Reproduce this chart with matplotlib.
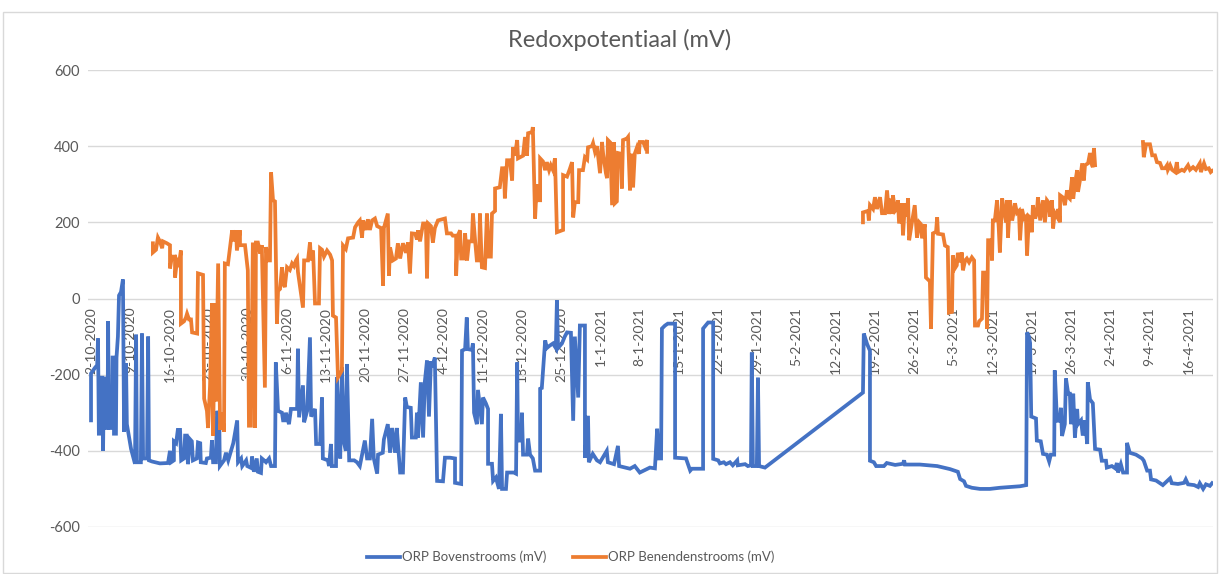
import numpy as np
import pandas as pd
import matplotlib
matplotlib.use("Agg")
import matplotlib.pyplot as plt
import matplotlib.dates as mdates
from matplotlib.ticker import FuncFormatter, MultipleLocator
from matplotlib.patches import Rectangle

plt.rcParams['font.family'] = ['Lato', 'DejaVu Sans']
plt.rcParams['axes.unicode_minus'] = False

title = "Redoxpotentiaal (mV)"
series_names = ["ORP Bovenstrooms (mV)", "ORP Benendenstrooms (mV)"]
start_date = "2020-10-02"
end_date = "2021-04-16"

# days since 2-10-2020 and mV values, Bovenstrooms (blue)
blue_days = [0.0, 0.0, 0.7, 1.1, 1.25, 1.4, 1.6, 1.6, 2.0, 2.15, 2.3, 2.7, 2.7, 2.95, 3.05, 3.2, 3.75, 3.85, 4.1, 4.1,
             4.45, 4.55, 4.8, 5.0, 5.35, 5.7, 5.9, 6.25, 6.4, 7.15, 7.85, 8.05, 8.2, 8.9, 9.1, 9.3, 10.0, 10.2, 10.35, 10.9,
             12.3, 13.75, 14.1, 14.3, 14.8, 14.8, 15.2, 15.5, 15.9, 16.1, 16.6, 16.8, 17.1, 17.3, 17.7, 18.0, 18.2, 18.9, 19.1, 19.5,
             19.6, 20.5, 20.7, 21.4, 21.6, 21.8, 22.3, 22.5, 22.9, 23.0, 23.75, 24.1, 24.5, 25.4, 26.1, 26.25, 26.8, 27.0, 27.7, 27.9,
             28.6, 28.75, 29.1, 29.6, 29.8, 30.35, 30.5, 30.9, 31.25, 31.8, 32.15, 32.85, 33.0, 33.4, 34.1, 34.3, 34.6, 34.8, 35.35, 35.7,
             36.8, 36.95, 37.15, 37.85, 38.05, 38.6, 39.1, 39.3, 40.0, 40.2, 40.9, 41.25, 41.4, 42.3, 42.5, 42.85, 43.0, 43.75, 43.9, 44.3,
             44.5, 44.8, 45.2, 45.5, 45.7, 46.1, 47.0, 47.5, 48.0, 48.9, 49.3, 49.8, 50.2, 50.5, 51.1, 51.25, 52.1, 52.3, 53.0, 53.4,
             53.75, 54.3, 54.6, 55.2, 55.7, 56.1, 56.4, 57.1, 57.3, 58.0, 58.2, 58.4, 58.9, 59.3, 59.6, 60.0, 60.35, 60.7, 60.9, 61.4,
             61.8, 62.85, 63.2, 64.1, 65.0, 65.0, 66.1, 66.25, 66.8, 67.1, 67.3, 68.0, 68.2, 68.4, 68.9, 69.1, 69.8, 70.0, 70.5, 70.9,
             70.9, 71.6, 71.8, 72.3, 72.85, 73.2, 73.4, 74.1, 74.3, 75.5, 75.9, 76.1, 76.25, 76.8, 76.95, 77.15, 77.85, 78.05, 78.4, 78.9,
             79.3, 80.2, 80.2, 80.5, 81.1, 81.4, 81.8, 82.5, 83.0, 83.2, 83.4, 84.1, 84.6, 85.0, 85.7, 86.1, 86.4, 87.0, 87.3, 88.2,
             88.2, 88.75, 88.9, 89.6, 90.35, 90.9, 92.1, 92.3, 93.4, 94.1, 94.3, 96.25, 97.1, 98.0, 99.8, 100.7, 101.1, 101.4, 101.8, 101.95,
             102.5, 103.0, 104.3, 104.3, 106.25, 107.0, 107.3, 109.3, 109.3, 109.8, 110.2, 111.1, 111.1, 112.0, 112.3, 113.0, 113.4, 114.1, 114.6, 115.4,
             115.5, 116.8, 117.3, 117.85, 118.0, 118.2, 118.9, 119.1, 119.3, 120.35, 137.85, 138.0, 138.6, 139.1, 139.1, 139.8, 140.2, 141.6, 142.1, 143.6,
             145.0, 145.2, 145.35, 148.0, 151.1, 153.4, 154.8, 155.2, 155.9, 156.25, 157.3, 158.75, 160.5, 162.3, 164.1, 165.9, 167.0, 167.15, 167.5, 167.7,
             167.9, 168.75, 168.9, 169.6, 170.0, 170.7, 171.1, 171.4, 172.0, 172.1, 172.5, 173.0, 173.2, 173.4, 173.9, 174.1, 174.5, 174.8, 175.0, 175.4,
             175.7, 176.1, 176.25, 176.8, 177.1, 177.5, 177.9, 178.0, 178.4, 178.9, 179.3, 180.2, 180.5, 181.25, 181.4, 182.3, 182.9, 183.2, 183.4, 183.9,
             184.3, 185.0, 185.0, 185.5, 186.6, 187.7, 188.0, 188.6, 189.1, 189.3, 190.2, 190.9, 191.4, 191.9, 192.7, 193.0, 194.1, 195.2, 195.5, 195.9,
             197.0, 197.7, 198.0, 198.6, 199.1, 199.8, 200.2]
blue_mv = [-320, -197, -182, -175, -105, -355, -355, -208, -208, -400, -210, -210, -340, -340, -60, -340, -340, -155, -155, -355,
           -355, -155, -100, 8, 17, 50, -350, -170, -330, -395, -434, -95, -430, -430, -92, -420, -420, -100, -425, -428,
           -433, -432, -400, -430, -425, -375, -380, -345, -345, -425, -420, -360, -360, -435, -370, -375, -425, -420, -378, -380,
           -430, -432, -420, -418, -372, -430, -430, -295, -320, -440, -425, -405, -425, -380, -320, -430, -420, -440, -425, -440,
           -445, -415, -455, -420, -455, -458, -420, -425, -430, -420, -440, -440, -168, -295, -300, -320, -320, -300, -330, -290,
           -290, -132, -312, -228, -325, -295, -102, -310, -290, -382, -382, -260, -420, -425, -440, -382, -440, -440, -207, -340,
           -420, -181, -380, -400, -172, -425, -425, -430, -440, -373, -420, -420, -316, -420, -460, -410, -405, -370, -330, -405,
           -340, -405, -340, -457, -457, -260, -285, -287, -365, -365, -300, -365, -220, -365, -220, -163, -310, -165, -180, -155,
           -479, -480, -418, -418, -420, -484, -487, -137, -133, -50, -133, -135, -118, -300, -330, -240, -330, -260, -275, -290,
           -434, -434, -479, -470, -500, -303, -500, -500, -457, -457, -460, -168, -373, -373, -300, -410, -410, -368, -410, -420,
           -452, -452, -237, -235, -110, -130, -125, -118, -130, -5, -130, -118, -100, -89, -90, -321, -100, -260, -71, -71,
           -418, -308, -430, -408, -425, -430, -400, -430, -435, -387, -440, -447, -440, -457, -444, -446, -342, -420, -420, -79,
           -71, -66, -66, -418, -420, -452, -447, -447, -79, -70, -63, -63, -421, -425, -433, -430, -435, -430, -438, -425,
           -438, -435, -440, -438, -142, -440, -440, -208, -440, -444, -247, -92, -120, -137, -426, -430, -440, -440, -432, -437,
           -434, -425, -436, -436, -440, -448, -455, -474, -480, -492, -497, -500, -500, -497, -495, -493, -490, -89, -100, -117,
           -310, -315, -373, -375, -408, -410, -428, -410, -410, -189, -321, -321, -287, -361, -330, -210, -250, -250, -330, -250,
           -365, -290, -330, -320, -360, -320, -382, -220, -265, -275, -395, -397, -426, -426, -444, -440, -446, -432, -457, -435,
           -457, -457, -379, -405, -410, -420, -426, -452, -452, -475, -478, -485, -490, -483, -472, -485, -487, -484, -475, -488,
           -490, -495, -485, -500, -488, -492, -485]

# Benedenstrooms (orange): three measured periods
orange1_days = [11.05, 11.05, 11.6, 11.95, 12.3, 12.7, 12.85, 13.55, 14.1, 14.1, 14.45, 15.0, 15.0, 15.35, 15.7, 16.05, 16.05, 16.6, 16.95, 17.15,
                17.5, 17.85, 18.05, 18.95, 19.1, 20.0, 20.2, 20.7, 20.9, 21.25, 21.6, 21.8, 22.15, 22.3, 22.7, 23.05, 23.4, 23.75, 23.9, 24.45,
                25.2, 25.5, 25.9, 26.05, 26.6, 26.6, 27.5, 28.0, 28.2, 28.55, 28.9, 29.3, 29.45, 29.8, 30.2, 30.5, 31.05, 31.25, 31.6, 31.95,
                32.15, 32.5, 32.85, 33.2, 33.4, 33.75, 34.1, 34.3, 34.6, 35.0, 35.5, 35.9, 36.25, 36.6, 36.8, 36.95, 37.85, 38.05, 38.75, 39.1,
                39.3, 39.65, 40.0, 40.7, 40.9, 41.25, 41.6, 42.15, 42.7, 43.05, 43.2, 43.75, 44.1, 44.8, 45.0, 45.5, 45.9, 46.8, 47.15, 47.7,
                48.0, 48.4, 48.6, 49.1, 49.45, 49.8, 50.2, 50.7, 51.1, 51.8, 52.15, 52.3, 53.0, 53.2, 53.4, 53.9, 54.45, 54.8, 55.2, 55.7,
                56.25, 56.6, 56.95, 57.3, 57.9, 58.2, 58.4, 58.75, 59.3, 59.8, 60.0, 60.2, 60.7, 61.05, 61.4, 61.95, 63.2, 63.55, 64.3, 64.6,
                65.2, 65.2, 65.5, 65.9, 66.1, 66.6, 66.8, 67.15, 67.5, 68.0, 68.2, 68.6, 68.9, 69.3, 69.45, 69.8, 70.35, 70.7, 71.05, 71.4,
                71.6, 72.15, 72.15, 73.0, 73.4, 73.75, 73.9, 74.3, 74.8, 75.2, 75.35, 75.7, 76.1, 76.25, 77.15, 77.5, 77.85, 78.05, 78.75, 78.9,
                79.3, 79.6, 79.8, 80.2, 80.2, 80.7, 81.1, 81.4, 81.8, 82.1, 82.5, 82.85, 83.2, 84.3, 84.3, 85.0, 85.5, 85.9, 86.1, 86.4,
                87.0, 87.15, 87.85, 88.2, 88.6, 88.75, 89.45, 89.65, 90.0, 90.35, 90.9, 91.25, 91.45, 91.95, 92.15, 92.3, 92.7, 93.05, 93.4, 93.55,
                93.9, 94.1, 94.65, 94.8, 95.0, 95.7, 95.9, 96.25, 96.6, 96.8, 97.1, 97.5, 97.85, 98.0, 98.6, 98.9, 99.3, 99.3]
orange1_mv = [145, 121, 128, 160, 150, 132, 150, 145, 140, 79, 110, 110, 55, 100, 90, 126, -66, -60, -50, -40,
              -55, -55, -89, -92, 66, 62, -263, -295, -340, -230, -13, -360, -13, -270, 92, -345, -300, -350, 92, 90,
              179, 150, 179, 126, 179, 140, 140, 74, -334, -334, 147, -340, 147, 147, 118, 140, -234, 135, 100, 100,
              331, 258, 255, -66, 20, 25, 82, 40, 30, 82, 75, 92, 85, 100, 105, 70, -24, 100, 100, 147,
              100, 126, -13, -13, 132, 128, 110, 126, 115, 100, -45, -50, -207, -189, 139, 130, 158, 160, 187, 200,
              205, 160, 205, 180, 208, 180, 205, 210, 190, 185, 34, 185, 223, 60, 134, 100, 105, 145, 105, 145,
              120, 147, 66, 171, 170, 155, 179, 150, 197, 197, 53, 197, 190, 147, 185, 205, 210, 171, 171, 165,
              165, 60, 165, 179, 105, 105, 171, 100, 150, 150, 223, 150, 100, 100, 223, 82, 80, 223, 110, 110,
              223, 230, 289, 292, 342, 342, 263, 363, 363, 310, 397, 375, 416, 368, 375, 424, 375, 434, 437, 450,
              210, 300, 258, 258, 368, 360, 337, 358, 337, 350, 337, 368, 174, 180, 324, 320, 340, 358, 213, 253,
              253, 337, 337, 371, 365, 397, 400, 408, 385, 400, 329, 411, 380, 329, 316, 416, 410, 245, 410, 250,
              255, 382, 380, 289, 416, 420, 424, 284, 380, 292, 380, 397, 380, 411, 411, 400, 416, 385]
orange2_days = [137.85, 137.85, 138.75, 138.9, 139.1, 139.65, 140.0, 140.35, 140.9, 141.25, 141.8, 142.15, 142.5, 142.9, 143.05, 143.2, 143.6, 143.9, 144.1, 144.3,
                144.8, 145.0, 145.35, 145.7, 145.9, 146.1, 146.6, 147.1, 147.5, 147.9, 148.2, 148.4, 148.9, 149.1, 149.8, 150.0, 150.35, 150.9, 151.1, 151.25,
                152.15, 152.5, 153.0, 153.2, 153.75, 153.9, 154.3, 154.6, 154.8, 155.2, 155.5, 155.7, 156.1, 156.4, 156.8, 157.3, 157.7, 157.85, 158.4, 158.6,
                159.1, 159.3, 159.8, 160.0, 160.2, 160.7, 160.9, 161.05, 161.4, 161.8, 162.1, 162.3, 162.7, 163.05, 163.4, 163.6, 163.75, 164.1, 164.5, 164.8,
                165.0, 165.35, 165.7, 165.9, 166.25, 166.6, 166.95, 167.15, 167.5, 167.85, 168.0, 168.2, 168.6, 168.9, 169.1, 169.5, 170.0, 170.35, 170.7, 171.1,
                171.25, 171.6, 171.8, 172.1, 172.5, 172.7, 173.05, 173.05, 173.6, 173.9, 174.3, 174.6, 174.8, 175.2, 175.4, 175.7, 176.1, 176.25, 176.6, 177.0,
                177.3, 177.5, 178.05, 178.4, 178.75, 178.9, 179.1, 179.3]
orange2_mv = [200, 226, 230, 205, 245, 235, 266, 235, 266, 224, 224, 284, 222, 262, 222, 271, 230, 235, 258, 197,
              250, 166, 250, 215, 263, 153, 200, 245, 160, 200, 195, 158, 195, 55, 45, -80, 171, 175, 213, 170,
              168, 139, 135, -37, -35, 113, 80, 87, 120, 95, 121, 74, 100, 105, 95, 108, 100, -71, -71, -60,
              -53, 68, 68, -79, 153, 153, 100, 205, 205, 258, 185, 121, 263, 230, 200, 258, 160, 258, 205, 230,
              250, 225, 230, 153, 235, 210, 215, 113, 215, 210, 174, 245, 210, 225, 266, 205, 258, 200, 258, 250,
              215, 258, 184, 225, 215, 235, 200, 271, 265, 245, 284, 265, 262, 318, 262, 300, 337, 280, 310, 355,
              310, 350, 355, 382, 350, 345, 395, 350]
orange3_days = [187.85, 188.0, 188.4, 189.1, 189.5, 190.0, 190.35, 190.9, 191.25, 191.8, 192.15, 192.3, 192.7, 193.05, 193.6, 193.9, 194.1, 194.8, 195.2, 195.9,
                196.25, 196.8, 197.3, 198.0, 198.2, 198.75, 199.1, 199.6, 199.95, 200.2]
orange3_mv = [411, 371, 405, 405, 376, 376, 358, 356, 342, 342, 350, 338, 350, 338, 332, 358, 332, 338, 335, 350,
              338, 345, 338, 355, 332, 355, 340, 342, 332, 335]

BLUE = "#4472C4"
ORANGE = "#ED7D31"
GRID = "#D9D9D9"
TXT = "#595959"

t0 = pd.Timestamp(start_date)


def to_num(days):
    return mdates.date2num(t0 + pd.to_timedelta(np.asarray(days, dtype=float), unit="D"))


# orange periods joined with NaN gaps (no line across missing data)
o_x = np.concatenate([to_num(orange1_days), [np.nan], to_num(orange2_days), [np.nan], to_num(orange3_days)])
o_y = np.array(orange1_mv + [np.nan] + orange2_mv + [np.nan] + orange3_mv, dtype=float)

fig = plt.figure(figsize=(12.2, 5.74), dpi=100)
W, H = 1220, 574
ax = fig.add_axes([88 / W, 1 - 527 / H, (1213 - 88) / W, (527 - 70) / H])

lw = 2.7
ax.plot(to_num(blue_days), blue_mv, color=BLUE, lw=lw, solid_joinstyle="miter", label=series_names[0], zorder=3)
ax.plot(o_x, o_y, color=ORANGE, lw=lw, solid_joinstyle="miter", label=series_names[1], zorder=4)

ax.set_ylim(-600, 600)
ax.set_xlim(mdates.date2num(t0 - pd.Timedelta(days=0.54)), mdates.date2num(t0 + pd.Timedelta(days=200.36)))
for s in ax.spines.values():
    s.set_visible(False)
ax.spines["bottom"].set_position(("data", 0))

ax.yaxis.set_major_locator(MultipleLocator(200))
ax.yaxis.set_major_formatter(FuncFormatter(lambda v, p: f"{int(round(v))}"))
ax.grid(axis="y", color=GRID, lw=1.0, zorder=0)

ticks = pd.date_range(start_date, end_date, freq="7D")
ax.set_xticks(mdates.date2num(ticks))
ax.set_xticklabels([f"{d.day}-{d.month}-{d.year}" for d in ticks])
ax.tick_params(axis="x", length=0, pad=6, labelsize=10, labelcolor=TXT, labelrotation=90)
for lab in ax.get_xticklabels():
    lab.set_verticalalignment("top")
    lab.set_horizontalalignment("center")
ax.tick_params(axis="y", length=0, pad=6, labelsize=10.5, labelcolor=TXT)

fig.text(620 / W, 1 - 40 / H, title, ha="center", va="center", fontsize=17, color=TXT)

fig.legend(loc="center", bbox_to_anchor=(571 / W, 1 - 557 / H), ncol=2, frameon=False, fontsize=9.5,
           handlelength=2.5, handletextpad=0.15, columnspacing=2.0, labelcolor=TXT)

fig.patches.append(Rectangle((3 / W, 0.002), (1217 - 3) / W, (561 - 0) / H, transform=fig.transFigure,
                             fill=False, edgecolor="#D9D9D9", lw=1.0))

fig.savefig("out.png", dpi=100, facecolor="white")
